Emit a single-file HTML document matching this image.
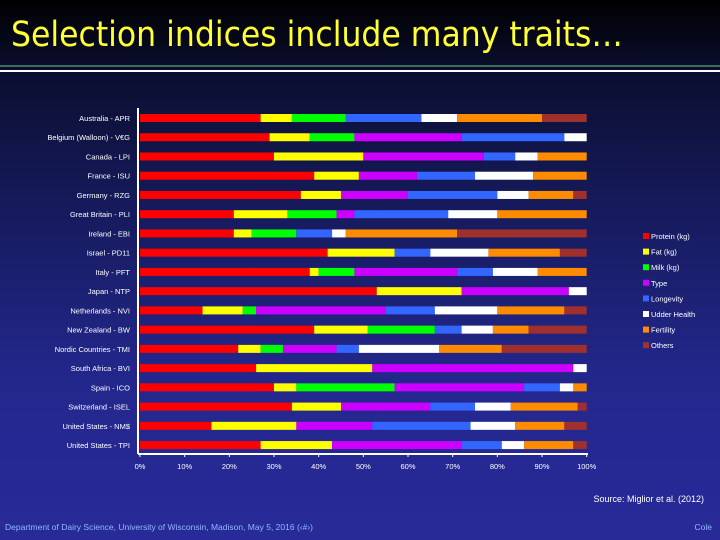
<!DOCTYPE html>
<html><head><meta charset="utf-8"><style>
html,body{margin:0;padding:0}
body{width:720px;height:540px;overflow:hidden;background:linear-gradient(180deg,#000000 0px,#0b0e2e 70px,#151a5a 200px,#23278c 380px,#282a99 540px);font-family:"Liberation Sans",sans-serif;position:relative}
svg{position:absolute;left:0;top:0}
</style></head><body>
<svg width="720" height="540">
<text x="11" y="46" font-size="35" fill="#ffff33" font-family="'DejaVu Sans Condensed','Liberation Sans Narrow','Liberation Sans',sans-serif">Selection indices include many traits…</text>
<rect x="0" y="65" width="720" height="2" fill="#3a6f5a"/>
<rect x="0" y="70" width="720" height="2" fill="#ffffff"/>
<g id="plot"></g>
<text x="704" y="502" font-size="9" fill="#ffffff" text-anchor="end">Source: Miglior et al. (2012)</text>
<text x="5" y="530" font-size="8.5" fill="#8fb8ff">Department of Dairy Science, University of Wisconsin, Madison, May 5, 2016 (‹#›)</text>
<text x="712" y="530" font-size="8.5" fill="#8fb8ff" text-anchor="end">Cole</text>
</svg>
<script>
const categories=["Australia - APR","Belgium (Walloon) - V€G","Canada - LPI","France - ISU","Germany - RZG","Great Britain - PLI","Ireland - EBI","Israel - PD11","Italy - PFT","Japan - NTP","Netherlands - NVI","New Zealand - BW","Nordic Countries - TMI","South Africa - BVI","Spain - ICO","Switzerland - ISEL","United States - NM$","United States - TPI"];
const seriesNames=["Protein (kg)","Fat (kg)","Milk (kg)","Type","Longevity","Udder Health","Fertility","Others"];
const protein=[27,29,30,39,36,21,21,42,38,53,14,39,22,26,30,34,16,27];
const fat=[7,9,20,10,9,12,4,15,2,19,9,12,5,26,5,11,19,16];
const milk=[12,10,0,0,0,11,10,0,8,0,3,15,5,0,22,0,0,0];
const type=[0,24,27,13,15,4,0,0,23,24,29,0,12,45,29,20,17,29];
const longevity=[17,23,7,13,20,21,8,8,8,0,11,6,5,0,8,10,22,9];
const udder=[8,5,5,13,7,11,3,13,10,4,14,7,18,3,3,8,10,5];
const fertility=[19,0,11,12,10,20,25,16,11,0,15,8,14,0,3,15,11,11];
const others=[10,0,0,0,3,0,29,6,0,0,5,13,19,0,0,2,5,3];
const xTicks=["0%","10%","20%","30%","40%","50%","60%","70%","80%","90%","100%"];
const series=[protein,fat,milk,type,longevity,udder,fertility,others];
const colors=["#ff0000","#ffff00","#00ff00","#cc00ff","#3366ff","#ffffff","#ff8c00","#a0302e"];
const NS="http://www.w3.org/2000/svg";
const g=document.getElementById('plot');
const x0=140,x1=586.7,yTop=118,yStep=19.24,bh=8;
const xs=v=>x0+(x1-x0)*v/100;
const ys=i=>yTop+i*yStep;
function mk(t,a){const e=document.createElementNS(NS,t);for(const k in a)e.setAttribute(k,a[k]);g.appendChild(e);return e;}
categories.forEach((c,i)=>{
  let cum=0;
  series.forEach((s,j)=>{
    const v=s[i];
    if(v>0){
      const r=mk('rect',{x:xs(cum),y:ys(i)-bh/2,width:xs(cum+v)-xs(cum),height:bh,fill:colors[j]});
      
      
    }
    cum+=v;
  });
  const t=mk('text',{x:130,y:ys(i)+3,'font-size':7.5,fill:'#ffffff','text-anchor':'end'});
  t.textContent=c;
  
  
});
const ya=mk('line',{x1:138,y1:108,x2:138,y2:454,stroke:'#ffffff','stroke-width':2});


const xa=mk('line',{x1:138,y1:454,x2:588,y2:454,stroke:'#ffffff','stroke-width':2});


xTicks.forEach((l,k)=>{
  const v=k*10;
  const tk=mk('line',{x1:xs(v),y1:454,x2:xs(v),y2:457,stroke:'#ffffff','stroke-width':1});
  
  
  const t=mk('text',{x:xs(v),y:469,'font-size':7.5,fill:'#ffffff','text-anchor':'middle'});
  t.textContent=l;
  
  
});
seriesNames.forEach((n,j)=>{
  const y=236+j*15.6;
  const r=mk('rect',{x:643,y:y-3,width:6,height:6,fill:colors[j]});
  
  
  const t=mk('text',{x:651,y:y+3,'font-size':7.5,fill:'#ffffff'});
  t.textContent=n;
  
  
});
</script>
</body></html>
